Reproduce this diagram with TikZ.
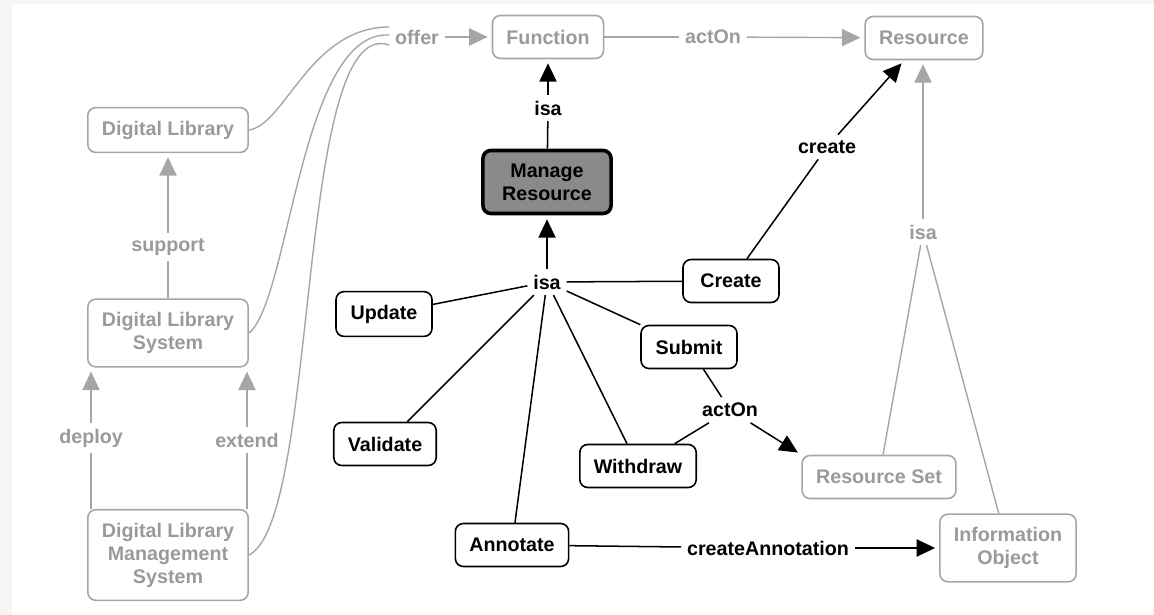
\documentclass[tikz,border=0pt]{standalone}
\usepackage{fontspec}
\setmainfont{Liberation Sans}
\usetikzlibrary{arrows.meta}

\definecolor{fadetext}{HTML}{9A9A9A}
\definecolor{fadeline}{HTML}{A6A6A6}
\definecolor{hubfill}{HTML}{8A8A8A}

\tikzset{
  concept/.style={rounded corners=0.2cm, line width=0.04cm, inner xsep=0.35cm, inner ysep=0.33cm,
    minimum height=1.075cm, minimum width=2.4cm, align=center, fill=white,
    font=\bfseries\fontsize{14}{16.3}\selectfont},
  dark/.style={concept, draw=black, text=black},
  faded/.style={concept, draw=fadeline, text=fadetext},
  relation/.style={inner sep=0.14cm, font=\bfseries\fontsize{14}{16.3}\selectfont},
  tip/.style={-{Triangle[length=0.46cm,width=0.43cm]}, shorten >=0.1cm},
  link/.style={line width=0.038cm, black},
  fadelink/.style={line width=0.035cm, fadeline},
}

\begin{document}
\begin{tikzpicture}[x=0.025cm, y=-0.025cm]
\useasboundingbox (0,0) rectangle (1154,615);
\fill[black!4] (0,0) rectangle (1154,615);
\fill[white] (12,4) rectangle (1154,615);

% concepts
\node[faded] (fun) at (548,37) {Function};
\node[faded] (res) at (924,38) {Resource};
\node[faded] (dl) at (168,130) {Digital Library};
\node[faded] (dls) at (168,333) {Digital Library\\System};
\node[faded] (dlms) at (168,555) {Digital Library\\Management\\System};
\node[faded] (rset) at (879,477) {Resource Set};
\node[faded] (info) at (1008,548) {Information\\Object};
\node[dark, fill=hubfill, line width=0.09cm, inner xsep=0.48cm] (mr) at (547,182) {Manage\\Resource};
\node[dark] (create) at (731,281) {Create};
\node[dark] (update) at (384,314) {Update};
\node[dark] (submit) at (689,347) {Submit};
\node[dark] (validate) at (385,444) {Validate};
\node[dark] (withdraw) at (638,466) {Withdraw};
\node[dark] (annotate) at (512,545) {Annotate};

% relation labels
\node[relation, text=fadetext] (offer) at (417,37) {offer};
\node[relation, text=fadetext] (acton1) at (713,37) {actOn};
\node[relation, text=fadetext] (support) at (168,247) {support};
\node[relation, text=fadetext] (deploy) at (91,438) {deploy};
\node[relation, text=fadetext] (extend) at (247,440) {extend};
\node[relation, text=fadetext] (isa3) at (923,232) {isa};
\node[relation] (isa1) at (548,108) {isa};
\node[relation] (isa2) at (547,282) {isa};
\node[relation] (createlbl) at (827,147) {create};
\node[relation] (acton2) at (730,410) {actOn};
\node[relation] (annot) at (768,548) {createAnnotation};

% grey part
\draw[fadelink] (dl.east) .. controls +(36,-5) and +(-79,0) .. ([yshift=0.25cm]offer.west);
\draw[fadelink] (dls.east) .. controls +(41,-33) and +(-89,-5) .. ([yshift=0.05cm]offer.west);
\draw[fadelink] (dlms.east) .. controls +(71,-35) and +(-94,-32) .. ([yshift=-0.2cm]offer.west);
\draw[fadelink, tip] (offer) -- (fun);
\draw[fadelink] (fun) -- (acton1);
\draw[fadelink, tip] (acton1) -- (res);
\draw[fadelink] (dls) -- (support);
\draw[fadelink, tip] (support) -- (dl);
\draw[fadelink] (dlms.north -| deploy) -- (deploy);
\draw[fadelink, tip] (deploy) -- (deploy |- dls.south);
\draw[fadelink] (dlms.north -| extend) -- (extend);
\draw[fadelink, tip] (extend) -- (extend |- dls.south);
\draw[fadelink, tip] (isa3) -- (isa3 |- res.south);
\draw[fadelink] (isa3) -- (rset);
\draw[fadelink] (isa3) -- (info);

% black part
\draw[link] (mr) -- (isa1);
\draw[link, tip] (isa1) -- (fun);
\draw[link, tip] (isa2) -- (mr);
\foreach \n in {update,validate,annotate,withdraw,submit,create}
  \draw[link] (isa2) -- (\n);
\draw[link] (create) -- (createlbl);
\draw[link, tip] (createlbl) -- (res);
\draw[link] (submit) -- (acton2);
\draw[link] (withdraw) -- (acton2);
\draw[link, tip] (acton2) -- (rset.north west);
\draw[link] (annotate) -- (annot);
\draw[link, tip] (annot) -- (info);
\end{tikzpicture}
\end{document}
